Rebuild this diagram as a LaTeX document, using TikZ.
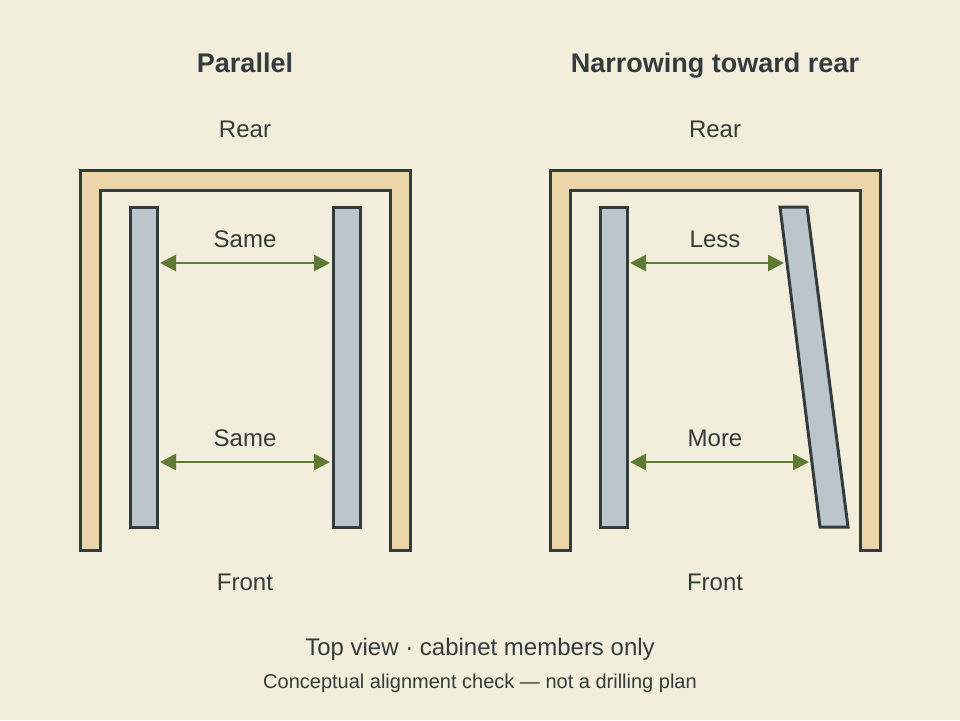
\documentclass[tikz,border=0pt]{standalone}
\usepackage{fontspec}
\setmainfont{Liberation Sans}
\usetikzlibrary{arrows.meta}
\definecolor{bg}{HTML}{F3EEDC}
\definecolor{wood}{HTML}{EDD5AA}
\definecolor{rail}{HTML}{BAC5CC}
\definecolor{ink}{HTML}{333C3C}
\definecolor{gap}{HTML}{5E7A35}
\begin{document}
\begin{tikzpicture}[x=1pt,y=-1pt,
  frame/.style={fill=wood, draw=ink, line width=3pt, line join=miter},
  member/.style={fill=rail, draw=ink, line width=3pt},
  span/.style={{Triangle[length=16pt,width=16pt]}-{Triangle[length=16pt,width=16pt]}, draw=gap, fill=gap, line width=2.8pt},
  txt/.style={text=ink, font=\fontsize{24}{28}\selectfont},
  head/.style={text=ink, anchor=base, font=\fontsize{27}{31}\selectfont\bfseries}]
\fill [bg] (0,0) rectangle (960,720);
\useasboundingbox (0,0) rectangle (960,720);

% left: parallel
\node [head] (t1) at (245,72) {Parallel};
\node [txt] (r1) at (245,129) {Rear};
\node [txt] (f1) at (245,582) {Front};
\draw [frame] (80,550) -- (80,170) -- (410,170) -- (410,550) -- (390,550) -- (390,190) -- (100,190) -- (100,550) -- cycle;
\draw [member] (130,207) rectangle (157,527);
\draw [member] (333,207) rectangle (360,527);
\coordinate (a1) at (160,263); \coordinate (b1) at (330,263);
\coordinate (a2) at (160,462); \coordinate (b2) at (330,462);
\draw [span] (a1) -- (b1);
\draw [span] (a2) -- (b2);
\node [txt] (s1) at (245,239) {Same};
\node [txt] (s2) at (245,438) {Same};

% right: narrowing
\node [head] (t2) at (715,72) {Narrowing toward rear};
\node [txt] (r2) at (715,129) {Rear};
\node [txt] (f2) at (715,582) {Front};
\draw [frame] (550,550) -- (550,170) -- (880,170) -- (880,550) -- (860,550) -- (860,190) -- (570,190) -- (570,550) -- cycle;
\draw [member] (600,207) rectangle (627,527);
\draw [member] (780,207) -- (807,207) -- (848,527) -- (820,527) -- cycle;
\coordinate (c1) at (630,263); \coordinate (d1) at (784,263);
\coordinate (c2) at (630,462); \coordinate (d2) at (809,462);
\draw [span] (c1) -- (d1);
\draw [span] (c2) -- (d2);
\node [txt] (l1) at (715,239) {Less};
\node [txt] (m1) at (715,438) {More};

\node [txt] (cap) at (480,649) {Top view · cabinet members only};
\node [text=ink, font=\fontsize{20}{24}\selectfont] (note) at (480,683) {Conceptual alignment check — not a drilling plan};
\end{tikzpicture}
\end{document}
